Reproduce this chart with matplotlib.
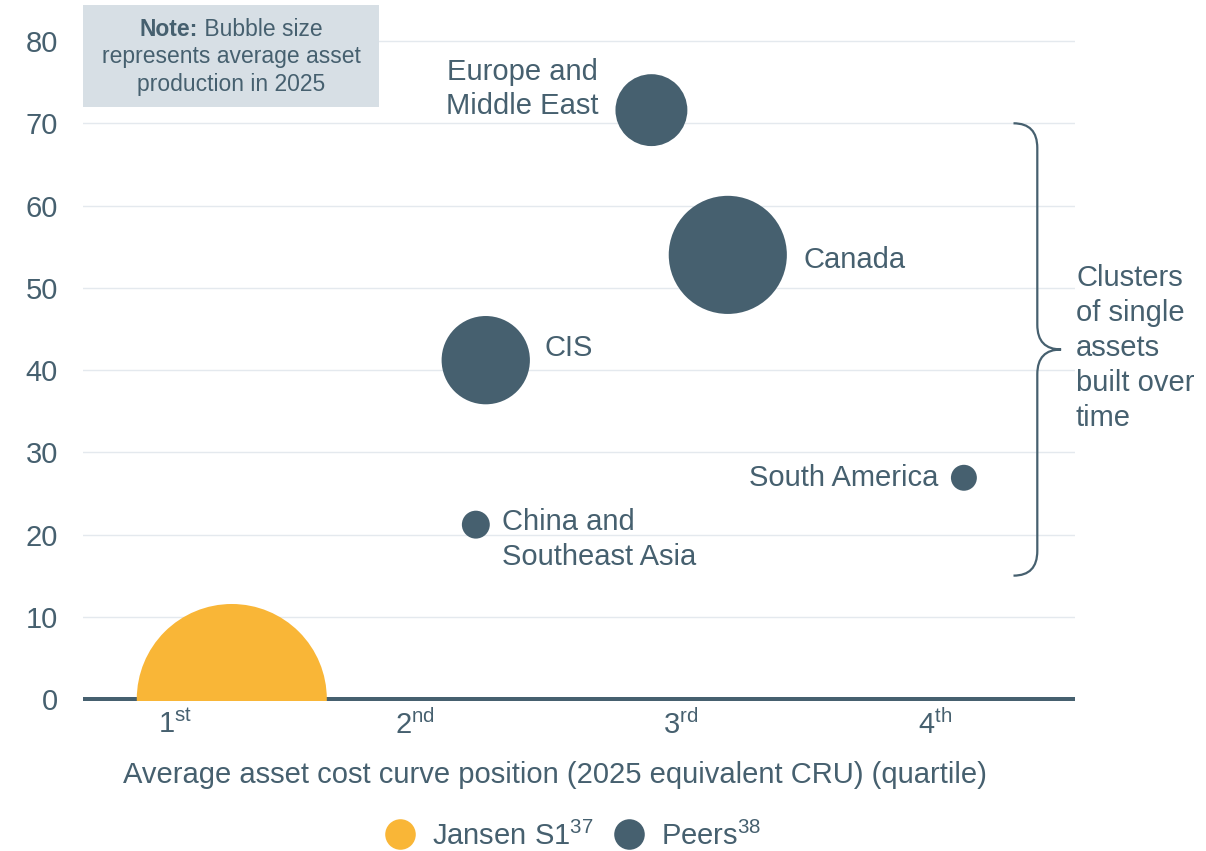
import matplotlib
matplotlib.use("Agg")
import matplotlib.pyplot as plt
from matplotlib.path import Path
from matplotlib.patches import PathPatch, Rectangle
from matplotlib.lines import Line2D

plt.rcParams['font.family'] = ['Liberation Sans', 'DejaVu Sans']
plt.rcParams['mathtext.fontset'] = 'custom'
plt.rcParams['mathtext.rm'] = 'Liberation Sans'
plt.rcParams['mathtext.bf'] = 'Liberation Sans:bold'
plt.rcParams['mathtext.it'] = 'Liberation Sans:italic'

# ---- data ----
names = ["Jansen S1", "Europe and\nMiddle East", "Canada", "CIS",
         "China and\nSoutheast Asia", "South America"]
cost_position = [15.0, 57.3, 65.0, 40.6, 39.6, 88.8]       # cost-curve position (0-100 scale)
capacity = [0.0, 71.6, 54.0, 41.2, 21.2, 26.9]              # y values
production = [4.4, 0.63, 1.7, 0.95, 0.095, 0.082]           # bubble size (relative production)
groups = ["Jansen", "Peers", "Peers", "Peers", "Peers", "Peers"]

quartile_pos = [9.3, 33.5, 60.2, 85.9]
quartile_labels = [r"1$^{\mathrm{st}}$", r"2$^{\mathrm{nd}}$", r"3$^{\mathrm{rd}}$", r"4$^{\mathrm{th}}$"]
yticks = [0, 10, 20, 30, 40, 50, 60, 70, 80]

DARK = "#46606F"
YELLOW = "#F9B637"
TEXT = "#46606F"
GRID = "#E4E9EE"
FS = 21
colors = {"Jansen": YELLOW, "Peers": DARK}

fig = plt.figure(figsize=(12.06, 8.51), dpi=100)
ax = fig.add_axes([83/1206, 0.1757, 992/1206, 0.7809])
ax.set_xlim(0, 100)
ax.set_ylim(-0.3, 80.5)

for s in ax.spines.values():
    s.set_visible(False)

for yv in yticks[1:]:
    ax.axhline(yv, color=GRID, lw=1.0, zorder=0)
ax.axhline(0, color=DARK, lw=3.6, zorder=1)

# bubble sizes: radius in px = k*sqrt(production)
k = 45.3
sizes = [(2 * k * (p ** 0.5) * 0.72) ** 2 for p in production]
ax.scatter(cost_position, capacity, s=sizes,
           c=[colors[g] for g in groups], linewidths=0, zorder=3)

# labels (offsets in pixels)
offsets = {
    "Europe and\nMiddle East": (-53, 21, 'right'),
    "Canada": (76, -5, 'left'),
    "CIS": (59, 12, 'left'),
    "China and\nSoutheast Asia": (26, -15, 'left'),
    "South America": (-26, 0, 'right'),
}
for n, x, y in zip(names, cost_position, capacity):
    if n in offsets:
        dx, dy, ha = offsets[n]
        ax.annotate(n, (x, y), xytext=(dx, dy), textcoords='offset pixels',
                    ha=ha, va='center', fontsize=FS, color=TEXT,
                    multialignment='left' if ha == 'left' else 'center',
                    linespacing=1.3)

ax.set_yticks(yticks)
ax.set_yticklabels([str(v) for v in yticks])
ax.set_xticks(quartile_pos)
ax.set_xticklabels(quartile_labels)
ax.tick_params(axis='y', length=0, pad=18, labelsize=FS, labelcolor=TEXT)
ax.tick_params(axis='x', length=0, pad=6, labelsize=FS, labelcolor=TEXT)

fig.text(555/1206, 1 - 775/851,
         "Average asset cost curve position (2025 equivalent CRU) (quartile)",
         ha='center', va='center', fontsize=FS, color=TEXT)

# brace
bx0, bx1, btip = 93.8, 96.2, 98.6
ytop, ybot = 70, 15
ymid = (ytop + ybot) / 2
verts = [(bx0, ytop), (bx1, ytop), (bx1, ytop - 3),
         (bx1, ymid + 3), (bx1, ymid), (btip, ymid),
         (bx1, ymid), (bx1, ymid - 3),
         (bx1, ybot + 3), (bx1, ybot), (bx0, ybot)]
codes = [Path.MOVETO, Path.CURVE3, Path.CURVE3,
         Path.LINETO, Path.CURVE3, Path.CURVE3,
         Path.CURVE3, Path.CURVE3,
         Path.LINETO, Path.CURVE3, Path.CURVE3]
ax.add_patch(PathPatch(Path(verts, codes), fill=False, edgecolor=DARK,
                       lw=1.6, clip_on=False, zorder=2))
fig.text(1076/1206, 1 - 348/851, "Clusters\nof single\nassets\nbuilt over\ntime",
         ha='left', va='center', fontsize=FS, color=TEXT, linespacing=1.31)

# note box
fig.patches.append(Rectangle((83/1206, 1 - 107/851), 296/1206, 102/851,
                             transform=fig.transFigure, facecolor="#D7DFE5",
                             edgecolor='none', zorder=5))
NFS = 16.5
cx = 231 / 1206
t_bold = fig.text(0, 1 - 30/851, "Note:", fontsize=NFS, fontweight='bold',
                  color=TEXT, ha='left', va='center', zorder=6)
t_reg = fig.text(0, 1 - 30/851, " Bubble size", fontsize=NFS, color=TEXT,
                 ha='left', va='center', zorder=6)
fig.text(cx, 1 - 57/851, "represents average asset", fontsize=NFS, color=TEXT,
         ha='center', va='center', zorder=6)
fig.text(cx, 1 - 85/851, "production in 2025", fontsize=NFS, color=TEXT,
         ha='center', va='center', zorder=6)
fig.canvas.draw()
r = fig.canvas.get_renderer()
wb = t_bold.get_window_extent(r).width
wr = t_reg.get_window_extent(r).width
x0 = 231 - (wb + wr) / 2
t_bold.set_x(x0 / 1206)
t_reg.set_x((x0 + wb) / 1206)

# legend
handles = [Line2D([], [], marker='o', ls='none', markersize=22, markerfacecolor=YELLOW,
                  markeredgewidth=0, label=r"Jansen S1$^{37}$"),
           Line2D([], [], marker='o', ls='none', markersize=22, markerfacecolor=DARK,
                  markeredgewidth=0, label=r"Peers$^{38}$")]
leg = fig.legend(handles=handles, loc='center', bbox_to_anchor=(572/1206, 1 - 836/851),
                 ncol=2, frameon=False, fontsize=FS, handletextpad=0.5,
                 columnspacing=0.6, handlelength=1.2)
for t in leg.get_texts():
    t.set_color(TEXT)

fig.savefig("out.png", dpi=100)
